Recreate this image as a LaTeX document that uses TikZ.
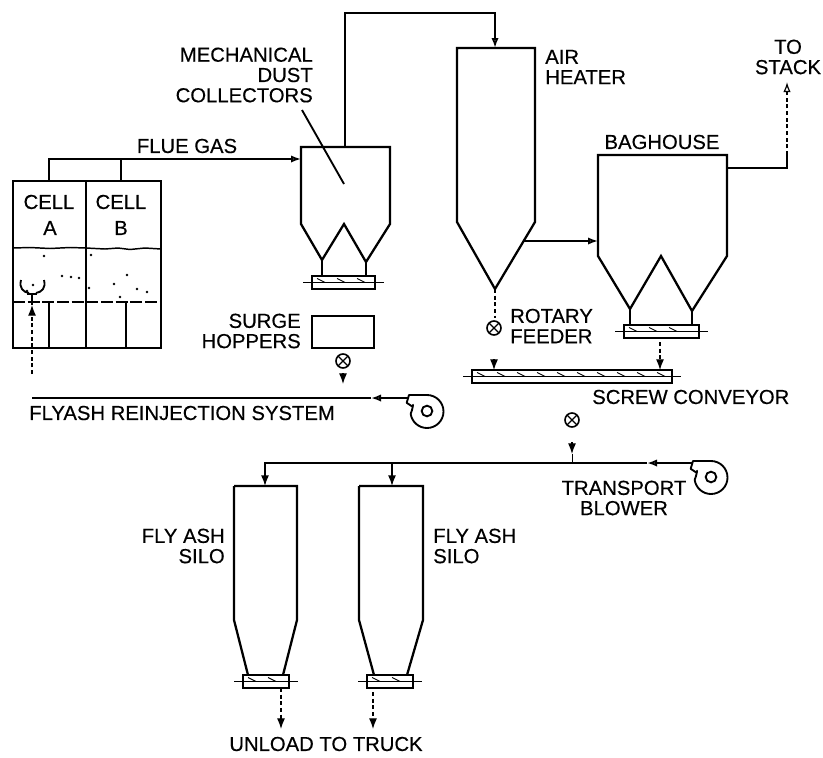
\documentclass[tikz,border=0pt]{standalone}
\usepackage{fontspec}
\setmainfont[FakeBold=0.4]{Liberation Sans}
\usetikzlibrary{arrows.meta}
\tikzset{
  lbl/.style={inner sep=0pt,align=center,font=\fontsize{15.2}{15.2}\selectfont},
  lblr/.style={lbl,align=right,anchor=east},
  lbll/.style={lbl,align=left,anchor=west},
  vessel/.style={line width=1.7pt,line join=miter},
  pipe/.style={line width=1.4pt},
  thinpipe/.style={line width=1.1pt},
  feed/.style={line width=0.9pt,densely dashed},
  gastip/.style={-{Latex[open,length=7.5pt,width=5.5pt]}},
  solidtip/.style={-{Latex[length=8pt,width=6pt]}},
  screwbox/.style={rectangle,draw,line width=1.4pt,inner sep=0pt,minimum height=9.5pt},
  rotary/.style={circle,draw,line width=1.2pt,inner sep=0pt,minimum size=10.5pt,
    path picture={\draw[line width=0.9pt] (path picture bounding box.north west) -- (path picture bounding box.south east)
      (path picture bounding box.north east) -- (path picture bounding box.south west);}},
  eye/.style={circle,draw,line width=1.4pt,inner sep=0pt,minimum size=8pt},
}
\begin{document}
\begin{tikzpicture}[x=0.75pt,y=-0.75pt,line cap=butt]
\path[use as bounding box] (0,0) rectangle (823,757);

% fluid bed cells
\draw[vessel] (13,181) rectangle (161,348);
\draw[vessel] (86,181) -- (86,348);
\draw[pipe] (49,302) -- (49,348);
\draw[pipe] (126,302) -- (126,348);
\draw[line width=1.1pt] (13,248) -- (30,247.5) -- (50,248.5) -- (70,247.5) -- (86,248) -- (105,249) -- (118,248) -- (130,249.5) -- (145,248) -- (161,249);
\draw[line width=1.4pt,dash pattern=on 9pt off 2pt] (13,302) -- (161,302);
\foreach \bx/\by in {44/256,62/276,71/277,79/278,91/255,114/284,127/275,137/289,120/297,147/292,89/288,33/285,27/291}
  \fill (\bx,\by) circle[radius=1.3];
% nozzle
\draw[pipe] (21,280) .. controls (19,288) and (23,292) .. (29,293);
\draw[pipe] (44,280) .. controls (46,288) and (42,292) .. (36,293);
\draw[pipe] (27,294) -- (37,294);
\draw[pipe] (32,294) -- (32,305);

\node[lbl] (cella) at (49,202) {CELL};
\node[lbl] (cellaa) at (50,228) {A};
\node[lbl] (cellb) at (121,202) {CELL};
\node[lbl] (cellbb) at (121,228) {B};

% flue gas to collectors
\coordinate (fluea) at (49,181);
\coordinate (flueb) at (121,181);
\coordinate (fluecorner) at (49,159);
\coordinate (fluetee) at (121,159);
\coordinate (dustin) at (301,159);
\draw[pipe,gastip] (fluea) -- (fluecorner) -- (dustin);
\draw[thinpipe] (flueb) -- (fluetee);
\node[lbl] (fluegas) at (187,146) {FLUE GAS};

% dust collectors
\draw[vessel] (301,224) -- (301,147) -- (390,147) -- (390,224) -- (366,262) -- (344,224) -- (322,260) -- cycle;
\node[lblr] (mech) at (313,75) {MECHANICAL\\DUST\\COLLECTORS};
\coordinate (mechtip) at (344,184);
\draw[pipe] (302,110) -- (mechtip);
\draw[pipe] (322,260) -- (322,276);
\draw[pipe] (366,262) -- (366,276);

% surge hoppers
\node[rectangle,draw,line width=1.5pt,minimum width=46.5pt,minimum height=24pt,inner sep=0pt] (surge) at (343,332) {};
\node[lblr] (surgelbl) at (301,331) {SURGE\\HOPPERS};
\node[rotary] (rotsurge) at (343,361) {};
\coordinate (surgehead) at (343,373);
\coordinate (surgeend) at (343,384);
\draw[solidtip,line width=0.9pt] (surgehead) -- (surgeend);

% reinjection line
\node[eye] (blowerr) at (427,411) {};
\coordinate (blowerrout) at (409,398);
\coordinate (reinjarrow) at (371,398);
\coordinate (reinjend) at (32,398);
\coordinate (reinjup) at (32,374);
\coordinate (nozzle) at (32,305);
\draw[pipe,gastip] (blowerrout) -- (reinjarrow);
\draw[thinpipe] (reinjarrow) -- (reinjend);
\draw[feed,solidtip] (reinjup) -- (nozzle);
\node[lbll] (reinjlbl) at (29,413) {FLYASH REINJECTION SYSTEM};

% air heater
\draw[vessel] (457,48) -- (535,48) -- (535,222) -- (495,289) -- (457,222) -- cycle;
\coordinate (dustout) at (345,147);
\coordinate (topleft) at (345,13);
\coordinate (topright) at (495,13);
\coordinate (heaterin) at (495,48);
\draw[pipe,gastip] (dustout) -- (topleft) -- (topright) -- (heaterin);
\node[lbll] (heaterlbl) at (545,67) {AIR\\HEATER};
\node[rotary] (rotheater) at (494,328) {};
\coordinate (heaterout) at (495,289);
\coordinate (heaterdrop) at (495,318);
\draw[feed] (heaterout) -- (heaterdrop);
\node[lbll] (rotlbl) at (510,326) {ROTARY\\FEEDER};

% baghouse
\draw[vessel] (598,256) -- (598,155) -- (727,155) -- (727,256) -- (692,311) -- (661,256) -- (630,309) -- cycle;
\node[lbl] (baglbl) at (662,142) {BAGHOUSE};
\coordinate (heaterside) at (523,241);
\coordinate (bagin) at (598,241);
\draw[pipe,gastip] (heaterside) -- (bagin);
\draw[pipe] (630,309) -- (630,325);
\draw[pipe] (692,311) -- (692,325);

% to stack
\coordinate (bagout) at (727,168);
\coordinate (stackcorner) at (787,168);
\coordinate (stackmid) at (787,155);
\coordinate (stackend) at (787,82);
\draw[pipe] (bagout) -- (stackcorner) -- (stackmid);
\draw[feed,gastip] (stackmid) -- (stackend);
\node[lbl] (stacklbl) at (788,57) {TO\\STACK};

% screw conveyors
\foreach \n/\cx/\cy/\w in {dustscrew/343.5/282.5/63,bagscrew/661.5/331.5/75,mainscrew/572/376.5/200,siloascrew/266/681.5/46,silobscrew/390/681.5/46}{
  \node[screwbox,minimum width=\w*0.75pt] (\n) at (\cx,\cy) {};
  \draw[line width=0.9pt] ([xshift=-6pt]\n.west) -- ([xshift=6pt]\n.east);
  \pgfmathtruncatemacro{\wend}{\w-10}
  \foreach \tx in {6,26,...,\wend}
    \draw[line width=0.7pt] (\n.west) ++(\tx,-4) -- ++(8,4);
}
\node[lbll] (screwlbl) at (592,397) {SCREW CONVEYOR};

% feeds onto main conveyor
\coordinate (feedheater) at (494,359);
\coordinate (feedheaterend) at (494,370);
\draw[solidtip,line width=0.9pt] (feedheater) -- (feedheaterend);
\coordinate (bagdrop) at (660,342);
\coordinate (bagdropend) at (660,370);
\draw[feed,solidtip] (bagdrop) -- (bagdropend);

% transport line
\node[eye] (blowert) at (711,477) {};
\coordinate (blowertout) at (693,463);
\coordinate (transarrow) at (647,463);
\coordinate (transcorner) at (265,463);
\coordinate (transdrop) at (392,463);
\coordinate (siloain) at (265,486);
\coordinate (silobin) at (392,486);
\draw[pipe,gastip] (blowertout) -- (transarrow);
\draw[thinpipe,solidtip] (transarrow) -- (transcorner) -- (siloain);
\draw[thinpipe,solidtip] (transdrop) -- (silobin);
\node[rotary] (rottrans) at (572,420) {};
\coordinate (transhead) at (572,442);
\coordinate (transtip) at (572,454);
\coordinate (transtee) at (572,463);
\draw[solidtip,line width=0.9pt] (transhead) -- (transtip);
\draw[line width=0.7pt] (transtip) -- (transtee);
\node[lbl] (translbl) at (624,498) {TRANSPORT\\BLOWER};

% blower casings
\foreach \bl in {blowerr,blowert}{
  \draw[pipe,line join=round] (\bl) ++(-18,-16) -- ++(18,0) arc[start angle=-90,end angle=172,radius=16.5]
    .. controls +(2,-4) and +(1,-6) .. ++(2,-7) -- ++(-6,-4) -- cycle;
}

% silos
\draw[vessel] (234,486) -- (297,486) -- (297,620) -- (283,675) (248,675) -- (234,620) -- (234,486);
\draw[vessel] (359,486) -- (423,486) -- (423,620) -- (407,675) (374,675) -- (359,620) -- (359,486);
\node[lblr] (siloalbl) at (225,546) {FLY ASH\\SILO};
\node[lbll] (silodlbl) at (433,546) {FLY ASH\\SILO};
\coordinate (unloada) at (281,688);
\coordinate (unloadaend) at (281,729);
\coordinate (unloadb) at (373,692);
\coordinate (unloadbend) at (373,729);
\draw[feed,solidtip] (unloada) -- (unloadaend);
\draw[feed,solidtip] (unloadb) -- (unloadbend);
\node[lbl] (unloadlbl) at (326,744) {UNLOAD TO TRUCK};
\end{tikzpicture}
\end{document}
